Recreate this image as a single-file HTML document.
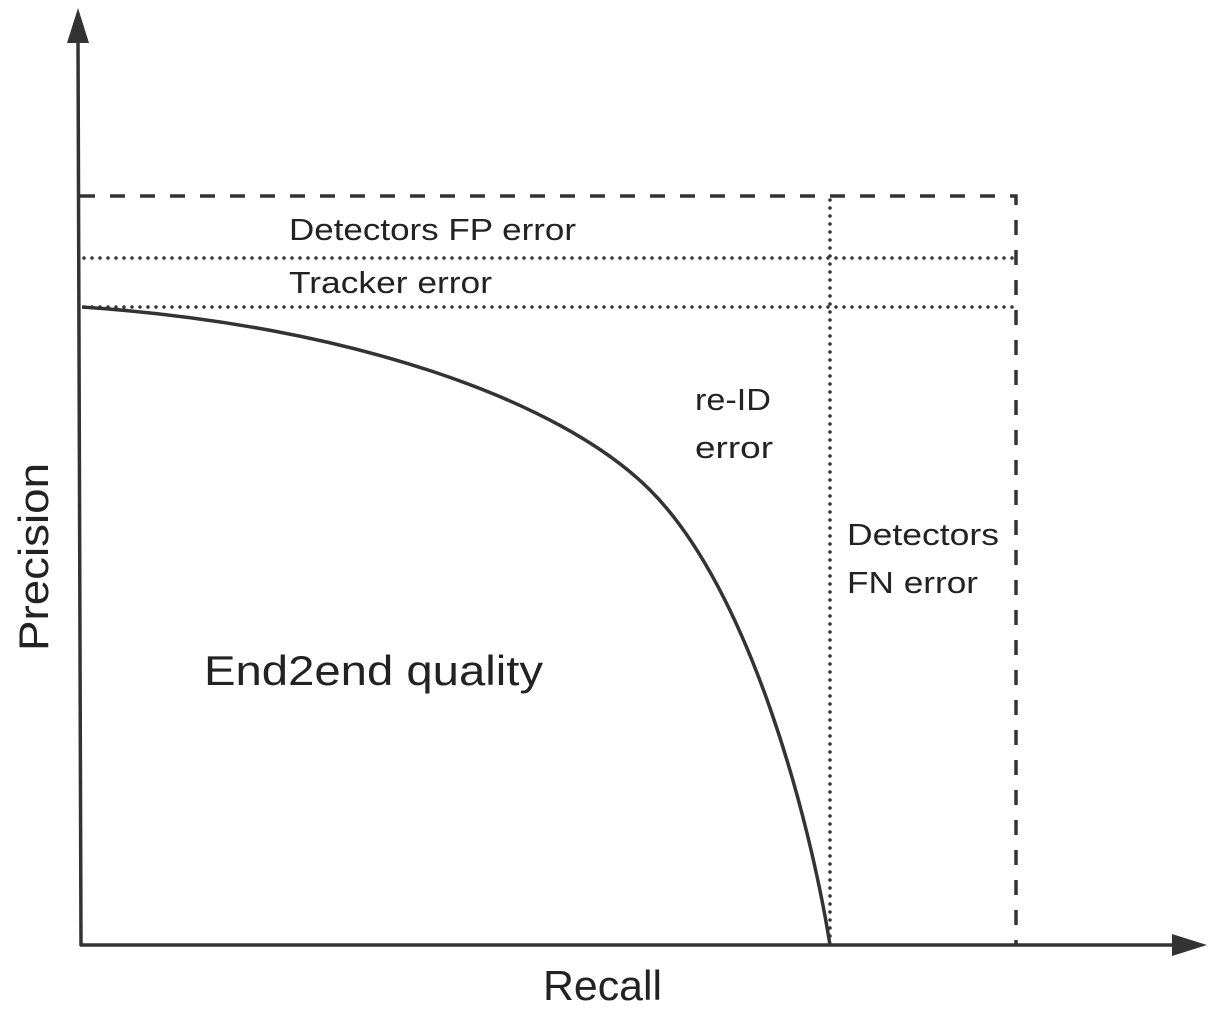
<!DOCTYPE html>
<html><head><style>
html,body{margin:0;padding:0;background:#fff;}
svg{display:block}
text{font-family:"Liberation Sans",sans-serif;fill:#222;}
</style></head><body>
<svg width="1228" height="1016" viewBox="0 0 1228 1016" xmlns="http://www.w3.org/2000/svg">
<g stroke="#333" fill="none">
<line x1="78" y1="40" x2="81" y2="946" stroke-width="3.5"/>
<line x1="80" y1="945" x2="1178" y2="945" stroke-width="3.5"/>
<path d="M80,196 H1016 V945" stroke-width="3.5" stroke-dasharray="15,15"/>
<line x1="84" y1="258" x2="1016" y2="258" stroke-width="3.5" stroke-dasharray="0,8" stroke-linecap="round"/>
<line x1="84" y1="307" x2="1016" y2="307" stroke-width="3.5" stroke-dasharray="0,8" stroke-linecap="round"/>
<line x1="830" y1="200" x2="830" y2="945" stroke-width="3.5" stroke-dasharray="0,8" stroke-linecap="round"/>
<path d="M82,307 C350,325 560,400 650,490 C750,590 810,820 830,945" stroke-width="3.5"/>
</g>
<polygon points="78,8 67,43 89,43" fill="#333"/>
<polygon points="1207,945 1172,934 1172,956" fill="#333"/>
<text x="289" y="240" font-size="31" textLength="287" lengthAdjust="spacingAndGlyphs">Detectors FP error</text>
<text x="289" y="293" font-size="31" textLength="203" lengthAdjust="spacingAndGlyphs">Tracker error</text>
<text x="695" y="410" font-size="31" textLength="76" lengthAdjust="spacingAndGlyphs">re-ID</text>
<text x="695" y="458" font-size="31" textLength="78" lengthAdjust="spacingAndGlyphs">error</text>
<text x="847" y="545" font-size="31" textLength="152" lengthAdjust="spacingAndGlyphs">Detectors</text>
<text x="847" y="593" font-size="31" textLength="131" lengthAdjust="spacingAndGlyphs">FN error</text>
<text x="204" y="685" font-size="42" textLength="339" lengthAdjust="spacingAndGlyphs">End2end quality</text>
<text x="543" y="1000" font-size="42" textLength="119" lengthAdjust="spacingAndGlyphs">Recall</text>
<text x="0" y="0" font-size="42" textLength="188" lengthAdjust="spacingAndGlyphs" transform="translate(48,651) rotate(-90)">Precision</text>
</svg>
</body></html>
